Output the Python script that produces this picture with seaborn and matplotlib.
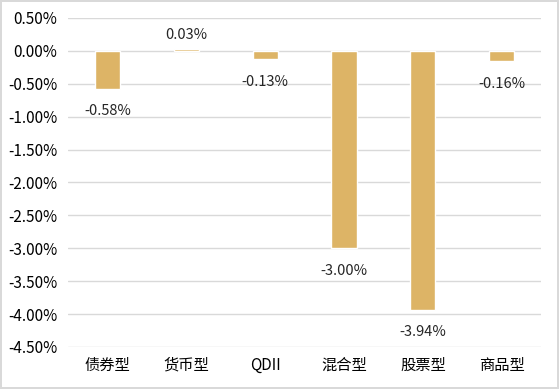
import matplotlib.pyplot as plt
import seaborn as sns
import pandas as pd
from matplotlib.ticker import FuncFormatter

sns.set_theme(style="white")
plt.rcParams["font.family"] = ["Noto Sans CJK SC", "DejaVu Sans"]

categories = ["债券型", "货币型", "QDII", "混合型", "股票型", "商品型"]
values = [-0.58, 0.03, -0.13, -3.00, -3.94, -0.16]
yticks = [0.5, 0.0, -0.5, -1.0, -1.5, -2.0, -2.5, -3.0, -3.5, -4.0, -4.5]

df = pd.DataFrame({"type": categories, "ret": values})

fig = plt.figure(figsize=(5.59, 3.89), dpi=100)
fig.patch.set_edgecolor("#d9d9d9")
fig.patch.set_linewidth(1.5)
ax = fig.add_axes([0.122, 0.108, 0.846, 0.846])

sns.barplot(data=df, x="type", y="ret", color="#ddb466", saturation=1,
            width=0.32, ax=ax, zorder=3)

ax.set_ylim(-4.5, 0.5)
ax.set_yticks(yticks)
ax.yaxis.set_major_formatter(FuncFormatter(lambda v, p: f"{v:.2f}%"))
ax.yaxis.grid(True, color="#d9d9d9", linewidth=1, zorder=0)
ax.set_axisbelow(True)
for s in ax.spines.values():
    s.set_visible(False)
ax.set_xlabel("")
ax.set_ylabel("")
ax.tick_params(axis="both", length=0, labelsize=11, colors="black")
ax.tick_params(axis="y", pad=8)
ax.tick_params(axis="x", pad=7)

for i, v in enumerate(values):
    if v >= 0:
        ax.annotate(f"{v:.2f}%", (i, v), xytext=(0, 5), textcoords="offset points",
                    ha="center", va="bottom", fontsize=10.5)
    else:
        ax.annotate(f"{v:.2f}%", (i, v), xytext=(0, -11), textcoords="offset points",
                    ha="center", va="top", fontsize=10.5)

plt.savefig("out.png", dpi=100)
